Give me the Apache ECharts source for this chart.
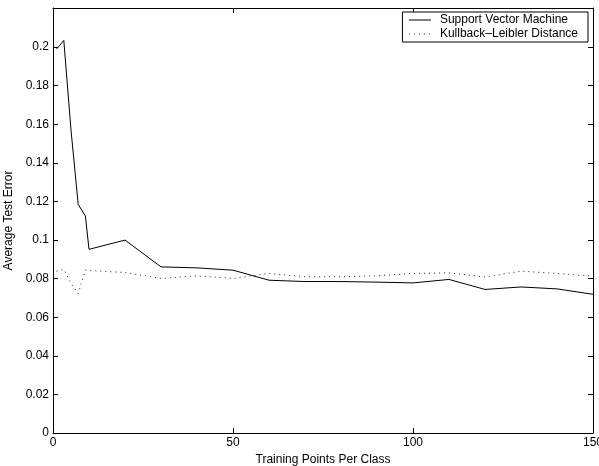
<!DOCTYPE html>
<html>
<head>
<meta charset="utf-8">
<script src="https://cdn.jsdelivr.net/npm/echarts@6/dist/echarts.min.js"></script>
<style>
  html, body { margin: 0; padding: 0; background: #fff; }
  #chart { width: 599px; height: 466px; }
</style>
</head>
<body>
<div id="chart"></div>
<script>
// training points per class
var xs = [1, 3, 5, 7, 9, 10, 20, 30, 40, 50, 60, 70, 80, 90, 100, 110, 120, 130, 140, 150]
var svmErr = [0.199, 0.2035, 0.157, 0.1185, 0.1125, 0.0952, 0.1, 0.0861, 0.0856, 0.0844,
  0.0792, 0.0785, 0.0785, 0.0782, 0.0778, 0.0796, 0.0744, 0.0757, 0.0747, 0.0719]
var klErr = [0.0839, 0.0848, 0.0775, 0.0723, 0.0844, 0.0842, 0.0832, 0.0801, 0.0815, 0.0801,
  0.0827, 0.081, 0.081, 0.0815, 0.0827, 0.083, 0.0809, 0.0839, 0.0827, 0.0813]
var yTicks = [0, 0.02, 0.04, 0.06, 0.08, 0.1, 0.12, 0.14, 0.16, 0.18, 0.2]
var xTicks = [0, 50, 100, 150]
var seriesNames = ['Support Vector Machine', 'Kullback\u2013Leibler Distance']

var font = 'Liberation Sans, Arial, Helvetica, sans-serif'
var chart = echarts.init(document.getElementById('chart'))

function pairs(ys) {
  return xs.map(function (x, i) { return [x, ys[i]] })
}

var yFmt = function (v) { return String(+v.toFixed(2)) }

var frameLine = { show: true, onZero: false, lineStyle: { color: '#000', width: 1 } }
var tick = { show: true, inside: true, length: 5, lineStyle: { color: '#000' } }

chart.setOption({
  animation: false,
  backgroundColor: '#fff',
  textStyle: { fontFamily: font },
  grid: { left: 53, right: 6, top: 8, bottom: 33, outerBoundsMode: 'none' },
  legend: {
    orient: 'vertical',
    right: 11,
    top: 12,
    padding: [2, 10, 2, 6],
    itemGap: 2,
    itemWidth: 22,
    itemHeight: 11,
    borderColor: '#000',
    borderWidth: 1,
    backgroundColor: '#fff',
    borderRadius: 0,
    itemStyle: { opacity: 0, borderWidth: 0 },
    lineStyle: { width: 1 },
    textStyle: { fontSize: 12, color: '#000', fontFamily: font, padding: [0, 0, 0, 4] },
    data: seriesNames
  },
  xAxis: [{
    type: 'value',
    min: 0, max: 150, interval: 50,
    name: 'Training Points Per Class',
    nameLocation: 'middle',
    nameGap: 17,
    nameTextStyle: { fontSize: 12, color: '#000' },
    axisLine: frameLine,
    axisTick: tick,
    axisLabel: { color: '#000', fontSize: 12, margin: 4, customValues: xTicks },
    splitLine: { show: false }
  }, {
    type: 'value', position: 'top',
    min: 0, max: 150, interval: 50,
    axisLine: frameLine,
    axisTick: tick,
    axisLabel: { show: false },
    splitLine: { show: false }
  }],
  yAxis: [{
    type: 'value',
    min: 0, max: 0.2203,
    name: 'Average Test Error',
    nameLocation: 'middle',
    nameGap: 37,
    nameTextStyle: { fontSize: 12, color: '#000' },
    axisLine: frameLine,
    axisTick: Object.assign({ customValues: yTicks }, tick),
    axisLabel: { color: '#000', fontSize: 12, margin: 4, customValues: yTicks, formatter: yFmt },
    splitLine: { show: false }
  }, {
    type: 'value', position: 'right',
    min: 0, max: 0.2203,
    axisLine: frameLine,
    axisTick: Object.assign({ customValues: yTicks }, tick),
    axisLabel: { show: false },
    splitLine: { show: false }
  }],
  series: [{
    name: seriesNames[0],
    type: 'line',
    symbol: 'none',
    data: pairs(svmErr),
    lineStyle: { color: '#000', width: 1 },
    itemStyle: { color: '#000' }
  }, {
    name: seriesNames[1],
    type: 'line',
    symbol: 'none',
    data: pairs(klErr),
    lineStyle: { color: '#222', width: 1, type: [1, 4] },
    itemStyle: { color: '#000' }
  }]
})
</script>
</body>
</html>
